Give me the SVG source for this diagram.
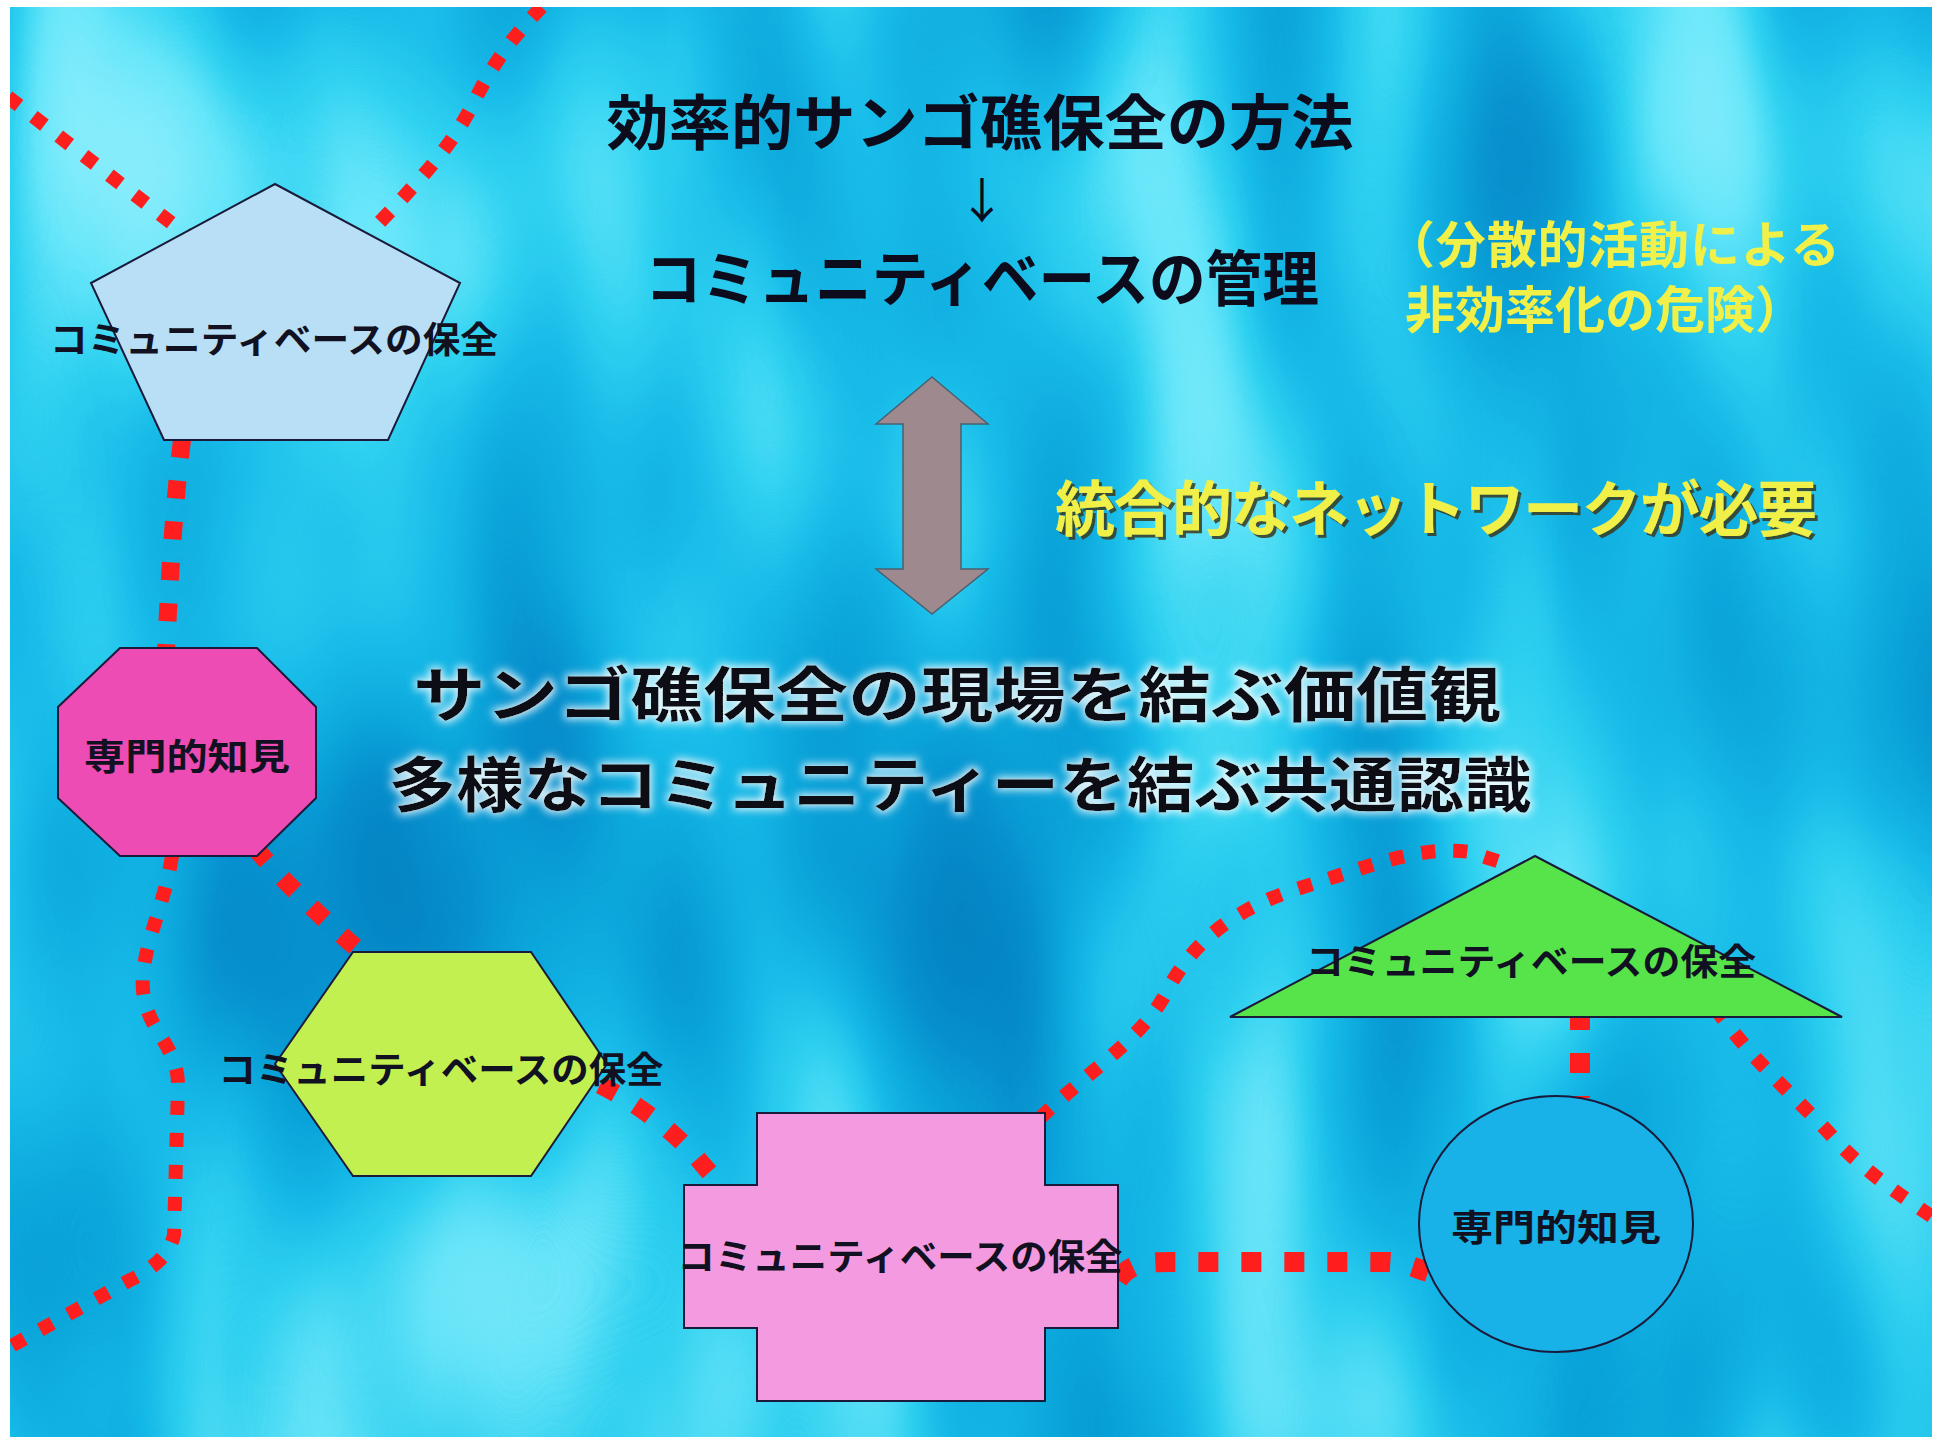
<svg xmlns="http://www.w3.org/2000/svg" width="1941" height="1443" viewBox="0 0 1941 1443">
  <defs>
    <linearGradient id="bgGrad" x1="0" y1="0" x2="0" y2="1">
      <stop offset="0" stop-color="#2cc4ee"/>
      <stop offset="1" stop-color="#16ace2"/>
    </linearGradient>
    <filter id="caustic" x="0" y="0" width="1" height="1" color-interpolation-filters="sRGB">
      <feTurbulence type="fractalNoise" baseFrequency="0.0045 0.0018" numOctaves="2" seed="5" result="t"/>
      <feColorMatrix in="t" type="matrix" values="1 0 0 0 0  1 0 0 0 0  1 0 0 0 0  0 0 0 0 1"/>
      <feComponentTransfer>
        <feFuncR type="table" tableValues="0 0 0.01 0.03 0.08 0.20 0.45 0.6 0.7"/>
        <feFuncG type="table" tableValues="0.48 0.48 0.54 0.64 0.73 0.84 0.93 0.96 0.98"/>
        <feFuncB type="table" tableValues="0.74 0.74 0.79 0.85 0.91 0.95 0.99 1 1"/>
        <feFuncA type="table" tableValues="0.85 0.85"/>
      </feComponentTransfer>
    </filter>
    <filter id="glow" x="-5%" y="-30%" width="110%" height="160%">
      <feMorphology in="SourceAlpha" operator="dilate" radius="2" result="d"/>
      <feGaussianBlur in="d" stdDeviation="4" result="b"/>
      <feFlood flood-color="#ffffff" flood-opacity="0.85"/>
      <feComposite in2="b" operator="in" result="halo"/>
      <feMerge>
        <feMergeNode in="halo"/>
        <feMergeNode in="SourceGraphic"/>
      </feMerge>
    </filter>
    <filter id="shadow" x="-5%" y="-30%" width="110%" height="160%">
      <feOffset in="SourceAlpha" dx="3" dy="3" result="o"/>
      <feFlood flood-color="#3a3a20" flood-opacity="0.85"/>
      <feComposite in2="o" operator="in" result="s"/>
      <feMerge>
        <feMergeNode in="s"/>
        <feMergeNode in="SourceGraphic"/>
      </feMerge>
    </filter>
    <clipPath id="bgClip">
      <rect x="10" y="7" width="1922" height="1430"/>
    </clipPath>
  </defs>
  <style>
    text { font-family: "Noto Sans CJK JP", "Noto Sans CJK SC", sans-serif; font-weight: 700; }
    .node { stroke: #1a1a3a; stroke-width: 2; stroke-linejoin: miter; }
    .lbl { font-size: 36px; fill: #111122; text-anchor: middle; }
    .title { font-size: 60px; fill: #0c0c1c; text-anchor: middle; }
    .yel { fill: #f0f048; }
    .mid { font-size: 60px; fill: #0c0c14; text-anchor: middle; }
    .dot { fill: none; stroke: #ff1e1e; }
    .ds { stroke-width: 14; stroke-dasharray: 14 18; }
    .dl { stroke-width: 18; stroke-dasharray: 18 23; }
    .dx { stroke-width: 20; stroke-dasharray: 20 23; }
  </style>

  <g id="background">
    <rect x="10" y="7" width="1922" height="1430" fill="url(#bgGrad)"/>
    <rect x="10" y="7" width="1922" height="1430" fill="#20b8e8" filter="url(#caustic)"/>
  </g>

  <g id="connectors" clip-path="url(#bgClip)">
    <path class="dot ds" d="M8,97 L200,245"/>
    <path class="dot ds" d="M358,245 C420,180 450,150 475,100 S520,30 550,-2"/>
    <path class="dot dl" d="M182,440 Q172,520 166,652"/>
    <path class="dot ds" d="M172,856 C165,905 140,950 143,990 C146,1030 178,1045 178,1085 L174,1235 Q168,1262 130,1280 L4,1350"/>
    <path class="dot dl" d="M255,848 Q300,900 368,958"/>
    <path class="dot dl" d="M600,1085 C630,1100 660,1120 690,1150 L725,1190"/>
    <path class="dot ds" d="M1040,1118 C1090,1070 1140,1040 1165,995 C1190,945 1230,910 1300,888 C1370,866 1420,845 1470,852 L1500,862"/>
    <path class="dot dx" d="M1118,1280 C1130,1262 1150,1262 1170,1262 L1390,1262 C1405,1263 1415,1268 1428,1272"/>
    <path class="dot dx" d="M1580,1010 L1580,1098"/>
    <path class="dot ds" d="M1715,1008 C1760,1070 1800,1100 1840,1145 C1870,1175 1900,1195 1940,1222"/>
  </g>

  <g id="title">
    <text class="title"><tspan x="980" y="145" textLength="747" lengthAdjust="spacingAndGlyphs">効率的サンゴ礁保全の方法</tspan><tspan x="982" y="218" font-size="48" font-weight="400">↓</tspan><tspan x="982" y="301" textLength="674" lengthAdjust="spacingAndGlyphs">コミュニティベースの管理</tspan></text>
  </g>

  <g id="note-risk">
    <text class="yel" x="1385" y="263" font-size="50" textLength="455">（分散的活動による</text>
    <text class="yel" x="1405" y="328" font-size="50" textLength="400">非効率化の危険）</text>
  </g>

  <g id="double-arrow">
    <polygon points="932,377 988,424 961,424 961,569 988,569 932,614 876,569 903,569 903,424 876,424" fill="#9e8a8e" stroke="#4a6070" stroke-width="1.5"/>
  </g>

  <g id="note-network">
    <text class="yel" x="1055" y="531" font-size="60" textLength="762" filter="url(#shadow)">統合的なネットワークが必要</text>
  </g>

  <g id="shared-values" filter="url(#glow)">
    <text class="mid" x="957" y="717" textLength="1088" lengthAdjust="spacingAndGlyphs">サンゴ礁保全の現場を結ぶ価値観</text>
    <text class="mid" x="960" y="807" textLength="1143" lengthAdjust="spacingAndGlyphs">多様なコミュニティーを結ぶ共通認識</text>
  </g>

  <g id="node-pentagon">
    <polygon class="node" points="275,184 460,283 388,440 164,440 91,283" fill="#b8dff6"/>
    <text class="lbl" x="274" y="353" textLength="448" lengthAdjust="spacingAndGlyphs">コミュニティベースの保全</text>
  </g>

  <g id="node-octagon">
    <polygon class="node" points="120,648 257,648 316,707 316,798 257,856 120,856 58,798 58,707" fill="#ee4cb5"/>
    <text class="lbl" x="187" y="770" textLength="206" lengthAdjust="spacingAndGlyphs">専門的知見</text>
  </g>

  <g id="node-hexagon">
    <polygon class="node" points="353,952 531,952 607,1064 531,1176 353,1176 275,1064" fill="#c2f050"/>
    <text class="lbl" x="441" y="1083" textLength="445" lengthAdjust="spacingAndGlyphs">コミュニティベースの保全</text>
  </g>

  <g id="node-cross">
    <polygon class="node" points="757,1113 1045,1113 1045,1185 1118,1185 1118,1328 1045,1328 1045,1401 757,1401 757,1328 684,1328 684,1185 757,1185" fill="#f49ae0"/>
    <text class="lbl" x="900" y="1270" textLength="445" lengthAdjust="spacingAndGlyphs">コミュニティベースの保全</text>
  </g>

  <g id="node-triangle">
    <polygon class="node" points="1535,856 1842,1017 1230,1017" fill="#56e44a"/>
    <text class="lbl" x="1531" y="975" textLength="450" lengthAdjust="spacingAndGlyphs">コミュニティベースの保全</text>
  </g>

  <g id="node-circle">
    <ellipse class="node" cx="1556" cy="1224" rx="137" ry="128" fill="#18b2e8"/>
    <text class="lbl" x="1556" y="1241" font-size="38" textLength="210" lengthAdjust="spacingAndGlyphs">専門的知見</text>
  </g>
</svg>
